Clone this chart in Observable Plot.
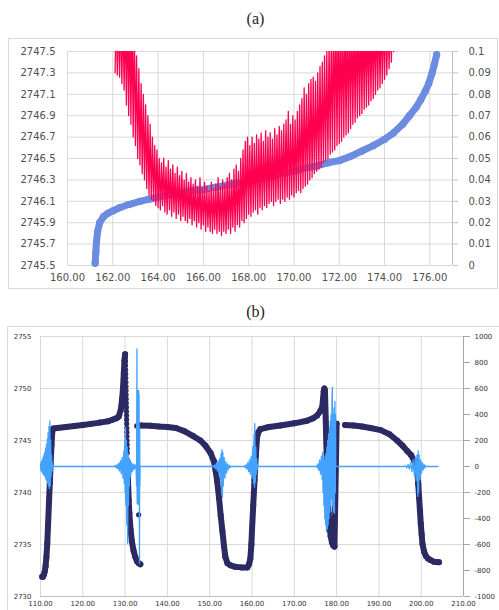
<!DOCTYPE html>
<html><head><meta charset="utf-8">
<script src="https://cdn.jsdelivr.net/npm/d3@7"></script>
<script src="https://cdn.jsdelivr.net/npm/@observablehq/plot@0.6"></script>
<style>
body{margin:0;background:#fff;width:499px;height:610px;overflow:hidden;position:relative;font-family:"DejaVu Sans",sans-serif}
.title{position:absolute;left:6px;width:499px;text-align:center;font-family:"Liberation Serif",serif;font-size:16px;line-height:20px;color:#222}
.box{position:absolute;border:1px solid #d9d9d9;box-sizing:border-box;pointer-events:none}
.panel{position:absolute;left:0}
.panel svg{display:block}
</style></head><body>
<div class="title" style="top:9px">(a)</div>
<div id="a" class="panel" style="top:38px"></div>
<div class="box" style="left:8px;top:38px;width:490px;height:251px"></div>
<div class="title" style="top:302px">(b)</div>
<div id="b" class="panel" style="top:326px"></div>
<div class="box" style="left:7px;top:326px;width:493px;height:300px"></div>
<script>
// ---------- Panel (a) ----------
const aXTicks = [160,162,164,166,168,170,172,174,176];
const aLeftTicks = [2745.5,2745.7,2745.9,2746.1,2746.3,2746.5,2746.7,2746.9,2747.1,2747.3,2747.5];
const aRightTicks = [0,0.01,0.02,0.03,0.04,0.05,0.06,0.07,0.08,0.09,0.1];

// blue dotted series (left axis)
const blueX = [161.22,161.25,161.28,161.33,161.42,161.6,161.8,162.0,162.3,162.7,163.2,163.6,164.0,164.5,165.0,165.5,166.0,166.5,167.0,167.5,168.0,168.5,169.0,169.5,170.0,170.5,171.0,171.5,172.0,172.5,173.0,173.5,174.0,174.4,174.8,175.1,175.4,175.6,175.8,175.95,176.1,176.2,176.3];
const blueY = [2745.52,2745.62,2745.72,2745.82,2745.9,2745.96,2745.99,2746.01,2746.04,2746.07,2746.1,2746.12,2746.14,2746.16,2746.18,2746.2,2746.21,2746.23,2746.25,2746.27,2746.28,2746.31,2746.33,2746.36,2746.38,2746.41,2746.43,2746.46,2746.48,2746.52,2746.57,2746.62,2746.68,2746.74,2746.82,2746.9,2746.98,2747.05,2747.13,2747.2,2747.3,2747.38,2747.47];

// red oscillating series (right axis, 0 - 0.1)
const redX = [
162.10,162.15,162.20,162.25,162.30,162.35,162.40,162.45,162.50,162.55,
162.60,162.65,162.70,162.75,162.80,162.85,162.90,162.95,163.00,163.05,
163.10,163.15,163.20,163.25,163.30,163.35,163.40,163.45,163.50,163.55,
163.60,163.65,163.70,163.75,163.80,163.85,163.90,163.95,164.00,164.05,
164.10,164.15,164.20,164.25,164.30,164.35,164.40,164.45,164.50,164.55,
164.60,164.65,164.70,164.75,164.80,164.85,164.90,164.95,165.00,165.05,
165.10,165.15,165.20,165.25,165.30,165.35,165.40,165.45,165.50,165.55,
165.60,165.65,165.70,165.75,165.80,165.85,165.90,165.95,166.00,166.05,
166.10,166.15,166.20,166.25,166.30,166.35,166.40,166.45,166.50,166.55,
166.60,166.65,166.70,166.75,166.80,166.85,166.90,166.95,167.00,167.05,
167.10,167.15,167.20,167.25,167.30,167.35,167.40,167.45,167.50,167.55,
167.60,167.65,167.70,167.75,167.80,167.85,167.90,167.95,168.00,168.05,
168.10,168.15,168.20,168.25,168.30,168.35,168.40,168.45,168.50,168.55,
168.60,168.65,168.70,168.75,168.80,168.85,168.90,168.95,169.00,169.05,
169.10,169.15,169.20,169.25,169.30,169.35,169.40,169.45,169.50,169.55,
169.60,169.65,169.70,169.75,169.80,169.85,169.90,169.95,170.00,170.05,
170.10,170.15,170.20,170.25,170.30,170.35,170.40,170.45,170.50,170.55,
170.60,170.65,170.70,170.75,170.80,170.85,170.90,170.95,171.00,171.05,
171.10,171.15,171.20,171.25,171.30,171.35,171.40,171.45,171.50,171.55,
171.60,171.65,171.70,171.75,171.80,171.85,171.90,171.95,172.00,172.05,
172.10,172.15,172.20,172.25,172.30,172.35,172.40,172.45,172.50,172.55,
172.60,172.65,172.70,172.75,172.80,172.85,172.90,172.95,173.00,173.05,
173.10,173.15,173.20,173.25,173.30,173.35,173.40,173.45,173.50,173.55,
173.60,173.65,173.70,173.75,173.80,173.85,173.90,173.95,174.00,174.05,
174.10,174.15,174.20,174.25,174.30,174.35,174.40,174.45];
const redV = [
0.09,0.12,0.089,0.12,0.088,0.12,0.085,0.12,0.082,0.12,
0.075,0.12,0.07,0.12,0.066,0.12,0.06,0.115,0.056,0.098,
0.05,0.092,0.047,0.085,0.043,0.08,0.04,0.075,0.036,0.07,
0.033,0.066,0.031,0.06,0.03,0.056,0.028,0.054,0.027,0.05,
0.026,0.048,0.028,0.05,0.025,0.046,0.024,0.049,0.026,0.045,
0.023,0.047,0.025,0.043,0.022,0.046,0.024,0.042,0.021,0.044,
0.023,0.04,0.021,0.043,0.02,0.039,0.022,0.041,0.019,0.038,
0.021,0.04,0.018,0.037,0.02,0.041,0.017,0.036,0.019,0.039,
0.016,0.037,0.018,0.035,0.016,0.039,0.015,0.036,0.017,0.038,
0.015,0.041,0.016,0.037,0.014,0.04,0.016,0.038,0.015,0.041,
0.017,0.043,0.015,0.04,0.018,0.045,0.016,0.047,0.019,0.044,
0.018,0.05,0.021,0.054,0.02,0.058,0.022,0.06,0.024,0.056,
0.023,0.06,0.025,0.057,0.026,0.061,0.024,0.059,0.027,0.062,
0.026,0.058,0.028,0.063,0.027,0.06,0.029,0.062,0.03,0.059,
0.028,0.064,0.03,0.061,0.031,0.065,0.029,0.063,0.031,0.066,
0.03,0.068,0.032,0.072,0.031,0.066,0.033,0.07,0.032,0.068,
0.034,0.072,0.035,0.075,0.034,0.078,0.036,0.083,0.037,0.08,
0.038,0.085,0.04,0.087,0.041,0.088,0.043,0.086,0.044,0.09,
0.045,0.093,0.046,0.095,0.048,0.098,0.049,0.1,0.05,0.105,
0.052,0.11,0.053,0.12,0.054,0.12,0.056,0.12,0.057,0.12,
0.058,0.12,0.06,0.12,0.061,0.12,0.062,0.12,0.064,0.12,
0.066,0.12,0.067,0.12,0.069,0.12,0.07,0.12,0.071,0.12,
0.073,0.12,0.074,0.12,0.075,0.12,0.077,0.12,0.078,0.12,
0.08,0.12,0.082,0.12,0.083,0.12,0.085,0.12,0.087,0.12,
0.089,0.12,0.092,0.12,0.095,0.12,0.1,0.12];

// ---------- Panel (b) ----------
const bXTicks = [110,120,130,140,150,160,170,180,190,200,210];
const bLeftTicks = [2730,2735,2740,2745,2750,2755];
const bRightTicks = [-1000,-800,-600,-400,-200,0,200,400,600,800,1000];

// navy dotted series (left axis), with segment ids
const navyX = [110.4,110.6,110.8,111.0,111.2,111.4,111.6,111.8,112.0,112.2,112.4,112.6,112.8,113.0,114,116,118,120,122,124,126,127,128,128.5,129.0,129.3,129.5,129.7,129.85,130.0,
  130.55,130.7,130.85,131.0,131.3,131.6,132.0,132.4,132.8,133.2,133.6,
  133.8,136,138,140,142,144,146,147.8,149,150.2,151,151.4,151.8,152.2,152.6,153.0,153.4,153.7,154.2,154.9,156,157.5,158.9,159.3,159.6,159.85,160.0,160.3,160.6,160.9,161.2,161.5,162,164,166.7,170,173,174.5,175.4,176.1,176.6,176.8,176.95,177.1,177.25,
  177.8,177.95,178.1,178.3,178.6,178.9,179.2,179.5,
  180.0,182,184,186,188,190.4,192.5,194.3,195.6,196.7,197.6,198.3,198.8,199.1,199.3,199.5,199.7,199.9,200.1,200.3,200.7,201.1,201.6,202.2,203,204.2];
const navyY = [2731.9,2731.9,2732.1,2732.4,2732.9,2733.8,2735.1,2737.0,2739.0,2740.9,2742.8,2744.6,2745.9,2746.15,2746.2,2746.3,2746.4,2746.5,2746.6,2746.72,2746.85,2747.0,2747.15,2747.3,2748.0,2749.0,2750.0,2751.5,2752.7,2753.3,
  2743.0,2741.0,2739.3,2738.0,2736.4,2735.3,2734.4,2733.8,2733.4,2733.2,2733.1,
  2746.45,2746.42,2746.35,2746.3,2746.2,2745.9,2745.45,2745.0,2744.5,2743.8,2743.0,2742.1,2741.0,2739.5,2737.8,2736.3,2734.8,2733.8,2733.2,2733.0,2732.85,2732.8,2732.8,2733.1,2733.6,2735.0,2736.4,2738.8,2741.2,2743.5,2745.3,2745.8,2746.1,2746.3,2746.45,2746.65,2746.9,2747.15,2747.4,2747.8,2748.2,2749.0,2749.7,2750.0,2749.8,
  2741.2,2739.5,2738.0,2736.8,2735.8,2735.2,2734.9,2734.8,
  2746.6,2746.5,2746.45,2746.35,2746.2,2746.0,2745.6,2745.0,2744.5,2744.0,2743.6,2743.1,2742.5,2741.8,2740.8,2739.55,2738.3,2737.0,2736.0,2735.05,2734.3,2733.9,2733.65,2733.5,2733.35,2733.3];
const navySeg = [1,1,1,1,1,1,1,1,1,1,1,1,1,1,1,1,1,1,1,1,1,1,1,1,1,1,1,1,1,1,
  2,2,2,2,2,2,2,2,2,2,2,
  3,3,3,3,3,3,3,3,3,3,3,3,3,3,3,3,3,3,3,3,3,3,3,3,3,3,3,3,3,3,3,3,3,3,3,3,3,3,3,3,3,3,3,3,3,3,
  4,4,4,4,4,4,4,4,
  5,5,5,5,5,5,5,5,5,5,5,5,5,5,5,5,5,5,5,5,5,5,5,5,5,5];
// scattered navy points (descending columns and isolated points)
const navyDotX = [130.05,130.08,130.1,130.12,130.14,130.16,130.18,130.2,130.22,130.24,130.26,130.28,130.3,130.32,130.34,130.36,130.38,130.4,130.42,130.44,130.46,130.48,130.5,130.52,
  133.2,132.75,
  177.28,177.3,177.33,177.35,177.38,177.4,177.43,177.45,177.48,177.5,177.53,177.55,177.58,177.6,177.63,177.65,177.68,177.7,177.73,177.75,177.78,
  179.3];
const navyDotY = [2753.0,2752.6,2752.2,2751.8,2751.4,2751.0,2750.6,2750.2,2749.8,2749.4,2749.0,2748.6,2748.2,2747.8,2747.4,2747.0,2746.6,2746.2,2745.8,2745.4,2745.0,2744.6,2744.2,2743.8,
  2737.85,2746.4,
  2749.6,2749.2,2748.8,2748.4,2748.0,2747.6,2747.2,2746.8,2746.4,2746.0,2745.6,2745.2,2744.8,2744.4,2744.0,2743.6,2743.2,2742.8,2742.4,2742.0,2741.6,
  2737.6];

// light-blue oscillating series (right axis, -1000..1000)
const lbX = [110.0,110.1,110.2,110.3,110.4,110.5,110.6,110.7,110.8,110.9,111.0,111.1,111.2,111.3,111.4,111.5,111.6,111.7,111.8,111.9,112.0,112.1,112.2,112.3,112.4,112.5,112.6,112.7,112.8,112.9,113.0,113.1,113.2,
  127.5,127.7,127.9,128.1,128.3,128.5,128.7,128.9,129.1,129.3,129.5,129.7,129.8,129.9,130.0,130.1,130.2,130.3,130.4,130.5,130.6,130.7,130.8,130.9,131.0,131.1,131.3,131.5,131.7,131.9,132.1,132.3,132.5,132.6,132.7,132.8,132.85,132.9,132.95,133.0,133.05,133.1,133.15,133.2,133.25,133.3,133.4,133.45,133.5,133.55,
  150.6,150.8,151.0,151.2,151.4,151.6,151.8,152.0,152.2,152.4,152.6,152.7,152.8,152.9,153.0,153.1,153.2,153.4,153.6,153.8,154.0,154.2,154.4,154.6,154.8,155.0,
  158.0,158.2,158.4,158.6,158.8,159.0,159.2,159.4,159.6,159.8,160.0,160.2,160.4,160.5,160.6,160.65,160.8,160.9,161.0,161.1,161.2,161.3,161.4,161.5,
  175.0,175.2,175.4,175.6,175.8,176.0,176.2,176.4,176.6,176.7,176.8,176.9,177.0,177.1,177.2,177.3,177.4,177.5,177.6,177.7,177.8,177.9,178.0,178.1,178.2,178.3,178.4,178.5,178.6,178.7,178.8,178.9,179.0,179.05,179.2,179.3,179.4,179.5,179.6,179.7,179.75,179.8,
  196.0,196.3,196.6,196.9,197.2,197.5,197.8,198.1,198.4,198.6,198.8,199.0,199.2,199.3,199.4,199.5,199.7,199.9,200.1,200.3,200.5,200.7,200.9,201.1,201.4,204.0];
const lbV = [20,-30,40,-40,50,-50,70,-60,90,-70,110,-80,140,-100,170,-110,210,-130,260,-150,310,-170,350,-150,200,-80,90,-40,30,-15,8,-4,0,
  0,8,-10,15,-20,25,-35,45,-55,70,-90,120,-130,200,-200,300,-300,200,-450,150,-590,100,-300,70,-150,50,-80,30,-40,20,-25,15,-15,10,-150,904,-280,250,-290,584,-290,584,-290,584,-290,560,-744,300,-150,0,
  0,5,-8,12,-18,25,-35,45,-60,65,-100,100,-200,130,-236,110,-150,70,-90,40,-50,20,-25,10,-8,0,
  0,5,-10,15,-20,30,-40,50,-60,80,-90,150,-130,250,-160,330,-120,150,-60,60,-25,15,-5,0,
  0,5,-10,20,-30,50,-60,80,-100,110,-200,60,-300,50,-400,80,-450,100,-500,150,-480,200,-450,250,-400,300,-350,350,-300,400,-250,500,610,-300,400,-350,450,-360,500,-200,400,0,
  0,5,-10,15,-20,30,-40,50,-70,70,-110,90,-230,120,-200,90,-100,50,-50,30,-25,15,-10,5,0,0];

// ---------- build ----------
const aR = v => 2745.5 + v * 20;       // right axis (a) -> left units
const bR = r => 2742.5 + r / 80;       // right axis (b) -> left units

const blue = blueX.map((x, i) => ({x, y: blueY[i]}));
const red = redX.map((x, i) => ({x, y: aR(redV[i])}));
const navy = navyX.map((x, i) => ({x, y: navyY[i], s: navySeg[i]}));
const navyDots = navyDotX.map((x, i) => ({x, y: navyDotY[i]}));
const lb = lbX.map((x, i) => ({x, y: bR(lbV[i])}));

const chartA = Plot.plot({
  width: 499, height: 250,
  marginLeft: 67, marginRight: 47, marginTop: 13, marginBottom: 23,
  x: {domain: [160, 177]},
  y: {domain: [2745.5, 2747.5]},
  style: {fontFamily: "DejaVu Sans, sans-serif", fontSize: "10px", background: "transparent", overflow: "visible"},
  marks: [
    Plot.ruleY(aLeftTicks, {stroke: "#d9d9d9", strokeWidth: 1}),
    Plot.ruleX(aXTicks, {stroke: "#d9d9d9", strokeWidth: 1}),
    Plot.ruleX([177], {stroke: "#bfbfbf", strokeWidth: 1}),
    Plot.axisY(aLeftTicks, {anchor: "left", tickSize: 0, tickPadding: 12, fill: "#505050", tickFormat: d => d.toFixed(1), label: null}),
    Plot.axisY(aRightTicks.map(aR), {anchor: "right", tickSize: 5, tickPadding: 11, stroke: "#bfbfbf", fill: "#505050", tickFormat: d => String(+((d - 2745.5) / 20).toFixed(2)), label: null}),
    Plot.axisX(aXTicks, {anchor: "bottom", tickSize: 0, tickPadding: 8, fill: "#505050", tickFormat: d => d.toFixed(2), label: null}),
    Plot.line(blue, {x: "x", y: "y", stroke: "#6b8ce0", strokeWidth: 7, strokeLinecap: "round", strokeLinejoin: "round"}),
    Plot.dot(blue, {x: "x", y: "y", r: 3.6, fill: "#6b8ce0"}),
    Plot.line(red, {x: "x", y: "y", stroke: "#ff0050", strokeWidth: 1.3, clip: true})
  ]
});
document.getElementById("a").append(chartA);

const chartB = Plot.plot({
  width: 499, height: 284,
  marginLeft: 40, marginRight: 36, marginTop: 10, marginBottom: 14,
  x: {domain: [110, 210]},
  y: {domain: [2730, 2755]},
  style: {fontFamily: "DejaVu Sans, sans-serif", fontSize: "7px", background: "transparent", overflow: "visible"},
  marks: [
    Plot.ruleY(bLeftTicks, {stroke: "#d9d9d9", strokeWidth: 1}),
    Plot.ruleX(bXTicks.filter(d => d < 210), {stroke: "#d9d9d9", strokeWidth: 1}),
    Plot.ruleX([210], {stroke: "#a6a6a6", strokeWidth: 1}),
    Plot.ruleY([2730], {stroke: "#bfbfbf", strokeWidth: 1}),
    Plot.axisY(bLeftTicks, {anchor: "left", tickSize: 0, tickPadding: 9, fill: "#333", tickFormat: d => String(d), label: null}),
    Plot.axisY(bRightTicks.map(bR), {anchor: "right", tickSize: 6, tickPadding: 5, stroke: "#a6a6a6", fill: "#333", tickFormat: d => String(Math.round((d - 2742.5) * 80)), label: null}),
    Plot.axisX(bXTicks, {anchor: "bottom", tickSize: 0, tickPadding: 5, fill: "#333", tickFormat: d => d.toFixed(2), label: null}),
    Plot.line(navy, {x: "x", y: "y", z: "s", stroke: "#2c2a63", strokeWidth: 6, strokeLinecap: "round", strokeLinejoin: "round"}),
    Plot.dot(navy, {x: "x", y: "y", r: 3, fill: "#2c2a63"}),
    Plot.dot(navyDots, {x: "x", y: "y", r: 2.6, fill: "#2c2a63"}),
    Plot.line(lb, {x: "x", y: "y", stroke: "#44a2ff", strokeWidth: 1.3})
  ]
});
document.getElementById("b").append(chartB);
</script>
</body></html>
